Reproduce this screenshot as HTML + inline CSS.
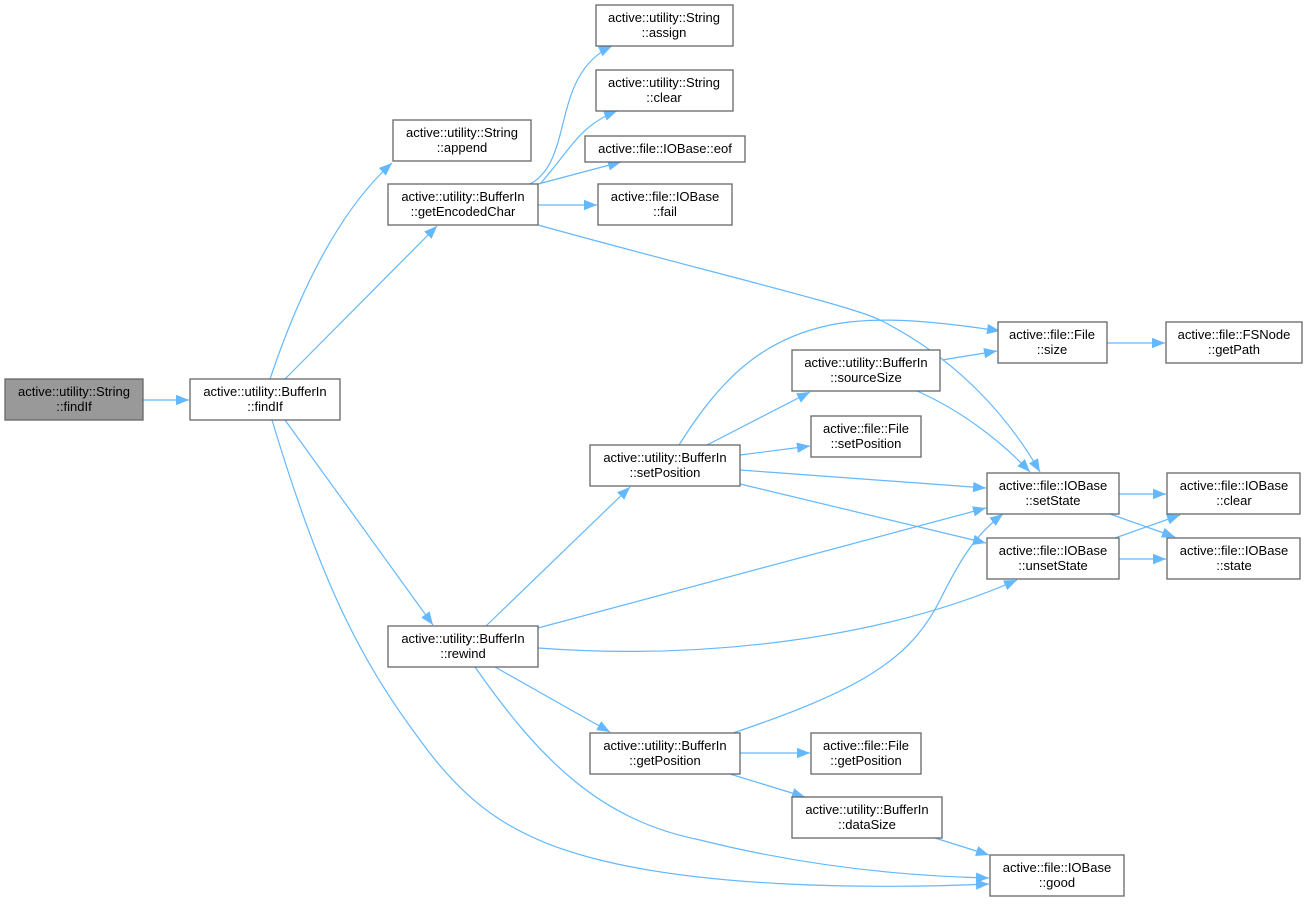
<!DOCTYPE html>
<html><head><meta charset="utf-8"><style>
html,body{margin:0;padding:0;background:#fff;}
svg{display:block}
text{font-family:"Liberation Sans",Helvetica,Arial,sans-serif;font-size:13px;fill:#000;text-anchor:middle}
.n{fill:#fff;stroke:#666;stroke-width:1.3}
.e{fill:none;stroke:#63b8ff;stroke-width:1.2}
</style></head><body>
<svg width="1314" height="906" viewBox="0 0 1314 906" xmlns="http://www.w3.org/2000/svg">
<defs><marker id="a" markerUnits="userSpaceOnUse" markerWidth="14" markerHeight="12" refX="13" refY="6" orient="auto"><path d="M0,0.8 L13,6 L0,11.2 z" fill="#63b8ff"/></marker></defs>
<g class="e" marker-end="url(#a)">
<path d="M143,400 L189,400"/>
<path d="M270,379 C300,290 340,210 392,163"/>
<path d="M285,379 L437,226"/>
<path d="M285,420 L433,625"/>
<path d="M272,420 C320,580 360,660 420,740 C470,810 520,840 600,860 C700,885 850,890 989,884"/>
<path d="M530,184 C575,160 550,75 612,46"/>
<path d="M540,184 C570,150 580,125 617,111"/>
<path d="M538,184 L621,162"/>
<path d="M538,205 L597,205"/>
<path d="M538,225 C700,270 850,305 880,320 C960,360 1010,420 1040,472"/>
<path d="M679,445 C720,380 760,340 830,325 C880,315 940,322 1000,331"/>
<path d="M707,445 L810,392"/>
<path d="M740,455 L810,446"/>
<path d="M740,470 L986,488"/>
<path d="M740,484 L986,543"/>
<path d="M942,360 L997,351"/>
<path d="M917,391 C960,410 1000,440 1030,472"/>
<path d="M1107,343 L1165,343"/>
<path d="M1119,494 L1166,494"/>
<path d="M1110,514 L1175,537"/>
<path d="M1115,538 L1180,515"/>
<path d="M1119,559 L1166,559"/>
<path d="M486,626 L630,487"/>
<path d="M538,628 L986,508"/>
<path d="M538,648 C700,660 880,640 1017,580"/>
<path d="M495,667 L610,732"/>
<path d="M475,667 C540,760 600,820 700,840 C800,865 900,876 989,878"/>
<path d="M740,753 L810,753"/>
<path d="M730,774 L805,797"/>
<path d="M733,733 C860,690 910,660 940,600 C960,560 975,535 1003,514"/>
<path d="M935,838 L989,855"/>
</g>
<rect x="5" y="379" width="138" height="41" fill="#999" stroke="#666" stroke-width="1.3"/>
<text x="74" y="396">active::utility::String</text><text x="74" y="411">::findIf</text>
<rect class="n" x="190" y="379" width="150" height="41"/><text x="265" y="396">active::utility::BufferIn</text><text x="265" y="411">::findIf</text>
<rect class="n" x="393" y="120" width="138" height="41"/><text x="462" y="137">active::utility::String</text><text x="462" y="152">::append</text>
<rect class="n" x="388" y="184" width="150" height="41"/><text x="463" y="201">active::utility::BufferIn</text><text x="463" y="216">::getEncodedChar</text>
<rect class="n" x="596" y="5" width="137" height="41"/><text x="664" y="22">active::utility::String</text><text x="664" y="37">::assign</text>
<rect class="n" x="596" y="70" width="137" height="41"/><text x="664" y="87">active::utility::String</text><text x="664" y="102">::clear</text>
<rect class="n" x="585" y="136" width="160" height="26"/><text x="665" y="153">active::file::IOBase::eof</text>
<rect class="n" x="598" y="184" width="134" height="41"/><text x="665" y="201">active::file::IOBase</text><text x="665" y="216">::fail</text>
<rect class="n" x="998" y="322" width="109" height="41"/><text x="1052" y="339">active::file::File</text><text x="1052" y="354">::size</text>
<rect class="n" x="1166" y="322" width="136" height="41"/><text x="1234" y="339">active::file::FSNode</text><text x="1234" y="354">::getPath</text>
<rect class="n" x="792" y="350" width="148" height="41"/><text x="866" y="367">active::utility::BufferIn</text><text x="866" y="382">::sourceSize</text>
<rect class="n" x="811" y="416" width="110" height="41"/><text x="866" y="433">active::file::File</text><text x="866" y="448">::setPosition</text>
<rect class="n" x="590" y="445" width="150" height="41"/><text x="665" y="462">active::utility::BufferIn</text><text x="665" y="477">::setPosition</text>
<rect class="n" x="987" y="473" width="132" height="41"/><text x="1053" y="490">active::file::IOBase</text><text x="1053" y="505">::setState</text>
<rect class="n" x="987" y="538" width="132" height="41"/><text x="1053" y="555">active::file::IOBase</text><text x="1053" y="570">::unsetState</text>
<rect class="n" x="1167" y="473" width="133" height="41"/><text x="1234" y="490">active::file::IOBase</text><text x="1234" y="505">::clear</text>
<rect class="n" x="1167" y="538" width="133" height="41"/><text x="1234" y="555">active::file::IOBase</text><text x="1234" y="570">::state</text>
<rect class="n" x="388" y="626" width="150" height="41"/><text x="463" y="643">active::utility::BufferIn</text><text x="463" y="658">::rewind</text>
<rect class="n" x="590" y="733" width="150" height="41"/><text x="665" y="750">active::utility::BufferIn</text><text x="665" y="765">::getPosition</text>
<rect class="n" x="811" y="733" width="110" height="41"/><text x="866" y="750">active::file::File</text><text x="866" y="765">::getPosition</text>
<rect class="n" x="792" y="797" width="150" height="41"/><text x="867" y="814">active::utility::BufferIn</text><text x="867" y="829">::dataSize</text>
<rect class="n" x="990" y="855" width="134" height="41"/><text x="1057" y="872">active::file::IOBase</text><text x="1057" y="887">::good</text>
</svg>
</body></html>
